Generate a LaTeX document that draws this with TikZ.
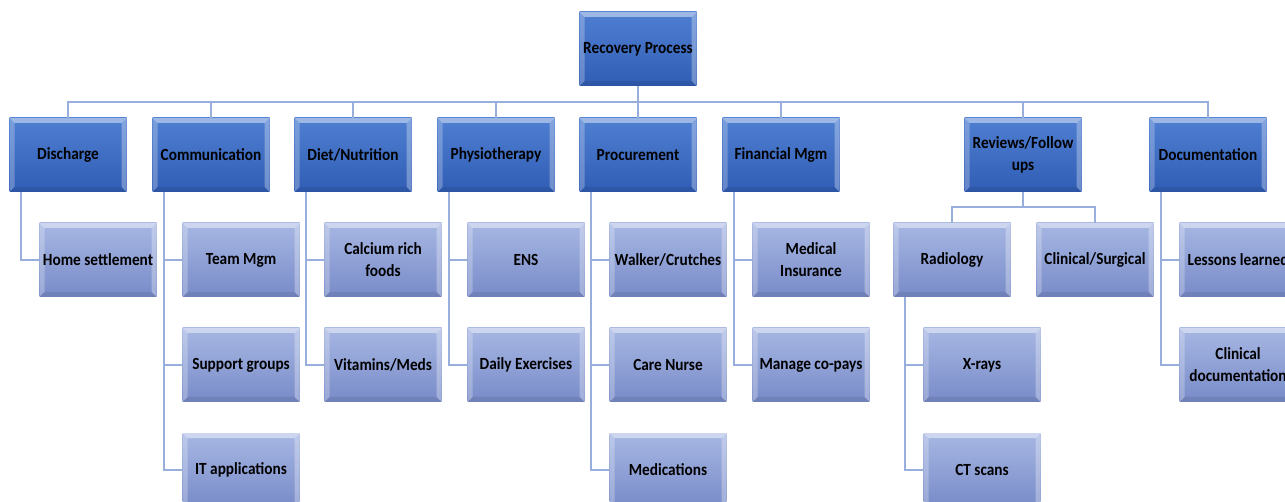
\documentclass[tikz,border=0pt]{standalone}
\usepackage{fontspec}
\setmainfont{Carlito}[FakeStretch=0.9]
\usetikzlibrary{positioning}

\definecolor{darktop}{HTML}{4F7FD1}
\definecolor{darkbot}{HTML}{305DB5}
\definecolor{lighttop}{HTML}{A7B7E3}
\definecolor{lightbot}{HTML}{788BC8}
\definecolor{linkblue}{HTML}{98AEDD}

\tikzset{
  bevel/.style={path picture={
      \fill[white,opacity=.45] (path picture bounding box.north west) -- (path picture bounding box.north east)
        -- ([shift={(-5pt,-5pt)}]path picture bounding box.north east) -- ([shift={(5pt,-5pt)}]path picture bounding box.north west) -- cycle;
      \fill[white,opacity=.25] (path picture bounding box.north west) -- ([shift={(5pt,-5pt)}]path picture bounding box.north west)
        -- ([shift={(5pt,5pt)}]path picture bounding box.south west) -- (path picture bounding box.south west) -- cycle;
      \fill[white,opacity=.3] (path picture bounding box.north east) -- ([shift={(-5pt,-5pt)}]path picture bounding box.north east)
        -- ([shift={(-5pt,5pt)}]path picture bounding box.south east) -- (path picture bounding box.south east) -- cycle;
      \fill[black,opacity=.08] (path picture bounding box.south west) -- ([shift={(5pt,5pt)}]path picture bounding box.south west)
        -- ([shift={(-5pt,5pt)}]path picture bounding box.south east) -- (path picture bounding box.south east) -- cycle;
    }},
  box/.style={rectangle,minimum width=117pt,minimum height=74pt,inner sep=1pt,align=center,
    font=\bfseries\fontsize{17}{22}\selectfont,bevel},
  head/.style={box,top color=darktop,bottom color=darkbot},
  item/.style={box,top color=lighttop,bottom color=lightbot},
  conn/.style={draw=linkblue,line width=1.8pt}
}

\begin{document}
\begin{tikzpicture}[x=1pt,y=1pt,node distance=105pt and 30pt,on grid]
  \useasboundingbox (0,0) rectangle (1285,-502);

  % top
  \node[head] (root) at (638,-49) {Recovery Process};

  % first level
  \node[head] (dis) at (68,-155) {Discharge};
  \node[head] (com) at (211,-155) {Communication};
  \node[head] (diet) at (353,-155) {Diet/Nutrition};
  \node[head] (phy) at (496,-155) {Physiotherapy};
  \node[head] (proc) at (638,-155) {Procurement};
  \node[head] (fin) at (781,-155) {Financial Mgm};
  \node[head] (rev) at (1023,-155) {Reviews/Follow\\ups};
  \node[head] (doc) at (1208,-155) {Documentation};

  % second level and below
  \node[item] (home) [below right=of dis] {Home settlement};
  \node[item] (team) [below right=of com] {Team Mgm};
  \node[item] (supp) [below=of team] {Support groups};
  \node[item] (itapp) [below=of supp] {IT applications};
  \node[item] (calc) [below right=of diet] {Calcium rich\\foods};
  \node[item] (vit) [below=of calc] {Vitamins/Meds};
  \node[item] (ens) [below right=of phy] {ENS};
  \node[item] (daily) [below=of ens] {Daily Exercises};
  \node[item] (walk) [below right=of proc] {Walker/Crutches};
  \node[item] (nurse) [below=of walk] {Care Nurse};
  \node[item] (meds) [below=of nurse] {Medications};
  \node[item] (ins) [below right=of fin] {Medical\\Insurance};
  \node[item] (copay) [below=of ins] {Manage co-pays};
  \node[item] (rad) at (952,-260) {Radiology};
  \node[item] (clin) at (1095,-260) {Clinical/Surgical};
  \node[item] (xray) [below right=of rad] {X-rays};
  \node[item] (ct) [below=of xray] {CT scans};
  \node[item] (less) [below right=of doc] {Lessons learned};
  \node[item] (cdoc) [below=of less] {Clinical\\documentation};

  % links
  \foreach \n in {dis,com,diet,phy,proc,fin,rev,doc}
    \draw[conn] (root.south) -- ++(0,-16) -| (\n.north);
  \foreach \n in {rad,clin}
    \draw[conn] (rev.south) -- ++(0,-15) -| (\n.north);
  \foreach \p/\c in {dis/home,com/team,com/supp,com/itapp,diet/calc,diet/vit,phy/ens,phy/daily,
                     proc/walk,proc/nurse,proc/meds,fin/ins,fin/copay,rad/xray,rad/ct,doc/less,doc/cdoc}
    \draw[conn] ([xshift=12pt]\p.south west) |- (\c.west);
\end{tikzpicture}
\end{document}
